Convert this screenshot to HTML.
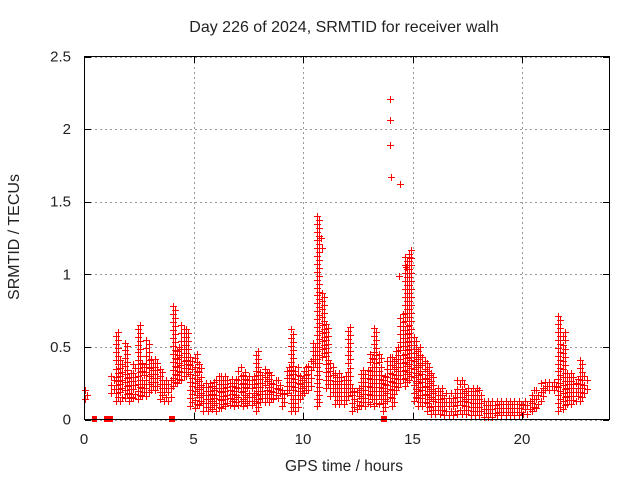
<!DOCTYPE html>
<html><head><meta charset="utf-8"><style>
body{margin:0;background:#fff}
svg text{font-family:"Liberation Sans",sans-serif;fill:#222}
</style></head><body>
<svg id="chart" width="640" height="480" viewBox="0 0 640 480" xmlns="http://www.w3.org/2000/svg">
<rect width="640" height="480" fill="#fff"/>
<text x="344" y="32" font-size="16" text-anchor="middle">Day 226 of 2024, SRMTID for receiver walh</text>
<text x="0" y="0" font-size="16" text-anchor="middle" transform="translate(19,237) rotate(-90)">SRMTID / TECUs</text>
<text x="344" y="471" font-size="15.5" text-anchor="middle">GPS time / hours</text>
<g id="grid"></g>
<g id="marks"></g>
<rect x="84.5" y="56.5" width="525" height="363" fill="none" stroke="#000" stroke-width="1"/>
<g id="ticks"></g>
</svg>
<script>
const xTicks=[0,5,10,15,20];
const yTicks=[0,0.5,1,1.5,2,2.5];
const yTickLabels=["0","0.5","1","1.5","2","2.5"];
const binStart=[0,1.2,1.4,1.6,1.8,2.0,2.2,2.4,2.6,2.8,3.0,3.2,3.4,3.6,3.8,4.0,4.2,4.4,4.6,4.8,5.0,5.2,5.4,5.6,5.8,6.0,6.2,6.4,6.6,6.8,7.0,7.2,7.4,7.6,7.8,8.0,8.2,8.4,8.6,8.8,9.0,9.2,9.4,9.6,9.8,10.0,10.2,10.4,10.6,10.8,11.0,11.2,11.4,11.6,11.8,12.0,12.2,12.4,12.6,12.8,13.0,13.2,13.4,13.6,13.8,14.0,14.2,14.4,14.6,14.8,15.0,15.2,15.4,15.6,15.8,16.0,16.2,16.4,16.6,16.8,17.0,17.2,17.4,17.6,17.8,18.0,18.2,18.4,18.6,18.8,19.0,19.2,19.4,19.6,19.8,20.0,20.2,20.4,20.6,20.8,21.0,21.2,21.4,21.6,21.8,22.0,22.2,22.4,22.6,22.8];
const binMin=[0.14,0.18,0.13,0.13,0.15,0.13,0.15,0.14,0.16,0.16,0.2,0.2,0.14,0.13,0.13,0.23,0.25,0.27,0.3,0.09,0.08,0.1,0.06,0.06,0.07,0.06,0.08,0.09,0.1,0.09,0.1,0.09,0.1,0.1,0.06,0.12,0.12,0.12,0.14,0.15,0.09,0.18,0.06,0.06,0.14,0.18,0.2,0.36,0.09,0.43,0.22,0.16,0.11,0.11,0.11,0.16,0.06,0.07,0.09,0.09,0.11,0.09,0.11,0.06,0.13,0.09,0.2,0.25,0.23,0.27,0.13,0.09,0.09,0.06,0.04,0.04,0.04,0.03,0.03,0.03,0.04,0.04,0.04,0.03,0.03,0.03,0.02,0.02,0.02,0.03,0.03,0.03,0.03,0.03,0.03,0.04,0.04,0.06,0.08,0.13,0.2,0.2,0.2,0.06,0.07,0.11,0.11,0.13,0.13,0.18];
const binMax=[0.2,0.3,0.6,0.41,0.53,0.32,0.38,0.65,0.39,0.55,0.42,0.42,0.35,0.27,0.27,0.78,0.5,0.65,0.62,0.43,0.45,0.38,0.25,0.25,0.26,0.3,0.3,0.3,0.28,0.28,0.36,0.33,0.3,0.3,0.47,0.33,0.35,0.33,0.27,0.27,0.2,0.36,0.62,0.36,0.3,0.36,0.4,0.53,1.4,0.87,0.66,0.39,0.32,0.32,0.3,0.64,0.22,0.22,0.34,0.34,0.45,0.63,0.45,0.3,0.43,0.43,0.5,0.73,1.12,1.17,0.57,0.5,0.43,0.39,0.32,0.22,0.22,0.18,0.18,0.18,0.27,0.27,0.22,0.22,0.22,0.2,0.13,0.13,0.13,0.13,0.13,0.13,0.13,0.13,0.13,0.13,0.13,0.2,0.2,0.25,0.26,0.26,0.26,0.71,0.6,0.32,0.32,0.28,0.41,0.3];
const outX=[13.95,13.97,13.99,14.0,14.43,14.4,10.74,10.8,10.85,14.85,14.7];
const outY=[2.21,2.06,1.89,1.67,1.62,0.99,1.32,1.25,1.18,1.12,1.05];
const zeroX=[0.45,1.0,1.15,1.2,3.95,4.0,13.65,13.7];
const NS="http://www.w3.org/2000/svg";
const X=h=>84+h*21.9, Y=v=>419.5-v*145.2;
const g=document.getElementById('grid'), m=document.getElementById('marks'), t=document.getElementById('ticks');
function mk(tag,a,p){const e=document.createElementNS(NS,tag);for(const k in a)e.setAttribute(k,a[k]);p.appendChild(e);return e;}
xTicks.forEach(v=>{
 const xx=Math.round(X(v))+0.5;
 const gl=mk('line',{x1:xx,x2:xx,y1:57,y2:419,stroke:'#999','stroke-dasharray':'2,3'},g);
 
 
 mk('line',{x1:xx,x2:xx,y1:419,y2:413,stroke:'#000'},t);
 mk('line',{x1:xx,x2:xx,y1:57,y2:63,stroke:'#000'},t);
 const lb=mk('text',{x:X(v),y:444,'font-size':15,'text-anchor':'middle'},t);
 lb.textContent=v;
 
 
});
yTicks.forEach((v,i)=>{
 const yy=Math.round(Y(v))+0.5;
 const gl=mk('line',{x1:85,x2:609,y1:yy,y2:yy,stroke:'#999','stroke-dasharray':'2,3'},g);
 
 
 mk('line',{x1:85,x2:91,y1:yy,y2:yy,stroke:'#000'},t);
 mk('line',{x1:603,x2:609,y1:yy,y2:yy,stroke:'#000'},t);
 const lb=mk('text',{x:71,y:Y(v)+5,'font-size':15,'text-anchor':'end'},t);
 lb.textContent=yTickLabels[i];
 
 
});
let d='';
function cross(h,v){
 const x=Math.round(X(h)),y=Math.round(Y(v));
 d+=`M${x-3} ${y}h7v1h-7zM${x} ${y-3}h1v7h-1z`;
}
binStart.forEach((b,i)=>{
 const lo=binMin[i],hi=binMax[i];
 const n=Math.max(2,Math.round((Y(lo)-Y(hi))/4));
 for(let k=0;k<=n;k++){const v=lo+(hi-lo)*k/n;cross(b+0.05+(k%2)*0.1,v);}
});
outX.forEach((h,i)=>cross(h,outY[i]));
const p=mk('path',{d:d,fill:'#f00','fill-rule':'nonzero',stroke:'none','shape-rendering':'crispEdges'},m);


zeroX.forEach(h=>{
 const r=mk('rect',{x:Math.round(X(h))-2,y:416,width:5,height:6,fill:'#f00'},m);
 
 
});
</script>
</body></html>
